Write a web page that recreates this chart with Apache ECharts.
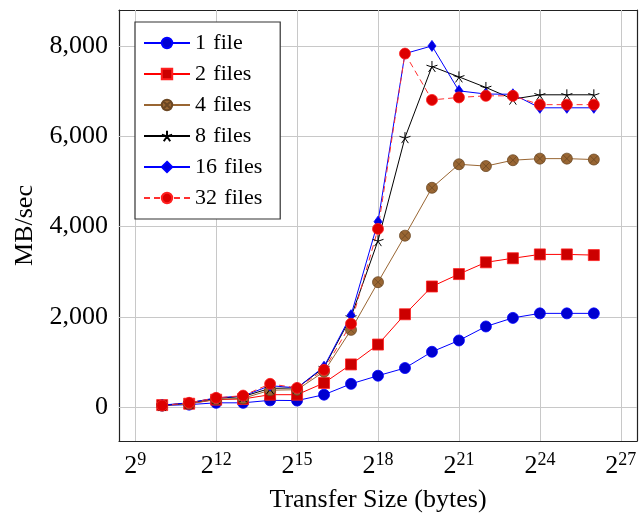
<!DOCTYPE html>
<html>
<head>
<meta charset="utf-8">
<script src="https://cdn.jsdelivr.net/npm/echarts@6/dist/echarts.min.js"></script>
<style>html,body{margin:0;padding:0;background:#fff;}#c{width:641px;height:513px;}</style>
</head>
<body>
<div id="c"></div>
<script>
// x values are log2 of the transfer size in bytes
var exps = [10,11,12,13,14,15,16,17,18,19,20,21,22,23,24,25,26];
var xTicks = [9,12,15,18,21,24,27];
var yTicks = [0,2000,4000,6000,8000];
var names = ['1 file','2 files','4 files','8 files','16 files','32 files'];
var file1  = [40,60,100,100,155,150,280,520,700,870,1230,1480,1790,1980,2080,2080,2080];
var files2 = [50,80,170,185,280,280,540,950,1390,2060,2675,2950,3210,3300,3385,3385,3370];
var files4 = [40,80,180,200,380,390,790,1715,2770,3800,4860,5380,5340,5470,5505,5505,5485];
var files8 = [40,100,200,240,420,430,880,2000,3690,5970,7545,7315,7080,6822,6918,6918,6918];
var files16= [50,100,210,250,480,430,900,2040,4110,7830,8000,7005,6935,6930,6630,6630,6630];
var files32= [40,100,210,260,520,430,830,1850,3950,7830,6805,6860,6895,6895,6700,6700,6700];

var FF = 'Liberation Serif';
function pts(arr){ return exps.map(function(e,i){ return [e, arr[i]]; }); }
var otimes = 'path://M0,-1A1,1,0,1,1,0,1A1,1,0,1,1,0,-1Z M-0.707,-0.707L0.707,0.707 M0.707,-0.707L-0.707,0.707';
var star = 'path://M0,0L0,-1 M0,0L0.951,-0.309 M0,0L0.588,0.809 M0,0L-0.588,0.809 M0,0L-0.951,-0.309';

var chart = echarts.init(document.getElementById('c'));
function fmtNum(v){ return String(v).replace(/\B(?=(\d{3})+(?!\d))/g, ','); }
var xRange = {min: 8.4, max: 27.6};
var yRange = {min: -745, max: 8795};
var lineAx = {show:true, onZero:false, lineStyle:{color:'#222', width:1.2}};
function tick(vals){ return {show:true, inside:true, length:10, lineStyle:{color:'#777', width:1}, customValues: vals}; }
var gridData = xTicks.map(function(v){ return {xAxis: v}; }).concat(yTicks.map(function(v){ return {yAxis: v}; }));
var option = {
  animation: false,
  backgroundColor: '#fff',
  grid: {left:119, right:4, top:10, bottom:72, containLabel:false, outerBoundsMode:'none'},
  legend: {
    show: true, left: 135, top: 22, orient: 'vertical', z: 20, zlevel: 0,
    data: names,
    backgroundColor: '#fff', borderColor: '#333', borderWidth: 1.2,
    padding: [10, 18, 10, 8],
    itemWidth: 46, itemHeight: 13, itemGap: 9,
    formatter: function(n){ return n.replace(' ', ' \u200A'); },
    textStyle: {fontFamily: FF, fontSize: 22, color: '#000', lineHeight: 22}
  },
  xAxis: [{
    type:'value', position:'bottom', min:xRange.min, max:xRange.max,
    name:'Transfer Size (bytes)', nameLocation:'middle', nameGap:46,
    nameTextStyle:{fontFamily:FF, fontSize:26, color:'#000'},
    axisLine: lineAx,
    axisTick: tick(xTicks),
    axisLabel: {show:true, customValues: xTicks, margin:10,
      formatter: function(v){ return '{b|2}{s|' + v + '}'; },
      rich: {b:{fontFamily:FF, fontSize:26, color:'#000'}, s:{fontFamily:FF, fontSize:18, color:'#000', padding:[0,0,12,0]}}},
    splitLine: {show:false}
  },{
    type:'value', position:'top', min:xRange.min, max:xRange.max,
    axisLine: lineAx, axisTick: tick(xTicks),
    axisLabel: {show:false}, splitLine:{show:false}
  }],
  yAxis: [{
    type:'value', position:'left', min:yRange.min, max:yRange.max,
    name:'MB/sec', nameLocation:'middle', nameGap:80, nameRotate:90,
    nameTextStyle:{fontFamily:FF, fontSize:26, color:'#000'},
    axisLine: lineAx, axisTick: tick(yTicks),
    axisLabel: {show:true, customValues: yTicks, margin:11, fontFamily:FF, fontSize:26, color:'#000',
      formatter: function(v){ return fmtNum(v); }},
    splitLine: {show:false}
  },{
    type:'value', position:'right', min:yRange.min, max:yRange.max,
    axisLine: lineAx, axisTick: tick(yTicks),
    axisLabel: {show:false}, splitLine:{show:false}
  }],
  series: [
    {name:'grid', type:'line', data:[], z:1, silent:true,
      markLine:{silent:true, z:1, symbol:['none','none'], label:{show:false}, animation:false,
        lineStyle:{color:'#c8c8c8', width:1, type:'solid'}, emphasis:{disabled:true}, data: gridData}},
    {name:names[0], type:'line', data:pts(file1), symbol:'circle', symbolSize:11,
      lineStyle:{color:'#0000ff', width:1}, itemStyle:{color:'#0000d0', borderColor:'#0000ff', borderWidth:0.8}},
    {name:names[1], type:'line', data:pts(files2), symbol:'rect', symbolSize:11,
      lineStyle:{color:'#ff0000', width:1}, itemStyle:{color:'#cc0000', borderColor:'#ff2020', borderWidth:0.8}},
    {name:names[2], type:'line', data:pts(files4), symbol:otimes, symbolSize:11,
      lineStyle:{color:'#996633', width:1}, itemStyle:{color:'#996633', borderColor:'#6b4723', borderWidth:0.8}},
    {name:names[3], type:'line', data:pts(files8), symbol:star, symbolSize:11,
      lineStyle:{color:'#000000', width:1}, itemStyle:{color:'#000000', borderColor:'#000000', borderWidth:1}},
    {name:names[4], type:'line', data:pts(files16), symbol:'diamond', symbolSize:[8,11],
      lineStyle:{color:'#0000ff', width:1}, itemStyle:{color:'#0000e0', borderColor:'#0000ff', borderWidth:0.8}},
    {name:names[5], type:'line', data:pts(files32), symbol:'circle', symbolSize:11,
      lineStyle:{color:'#ff3030', width:1, type:[6,4]}, itemStyle:{color:'#dd0000', borderColor:'#ff2020', borderWidth:0.8}}
  ]
};
chart.setOption(option);
</script>
</body>
</html>
